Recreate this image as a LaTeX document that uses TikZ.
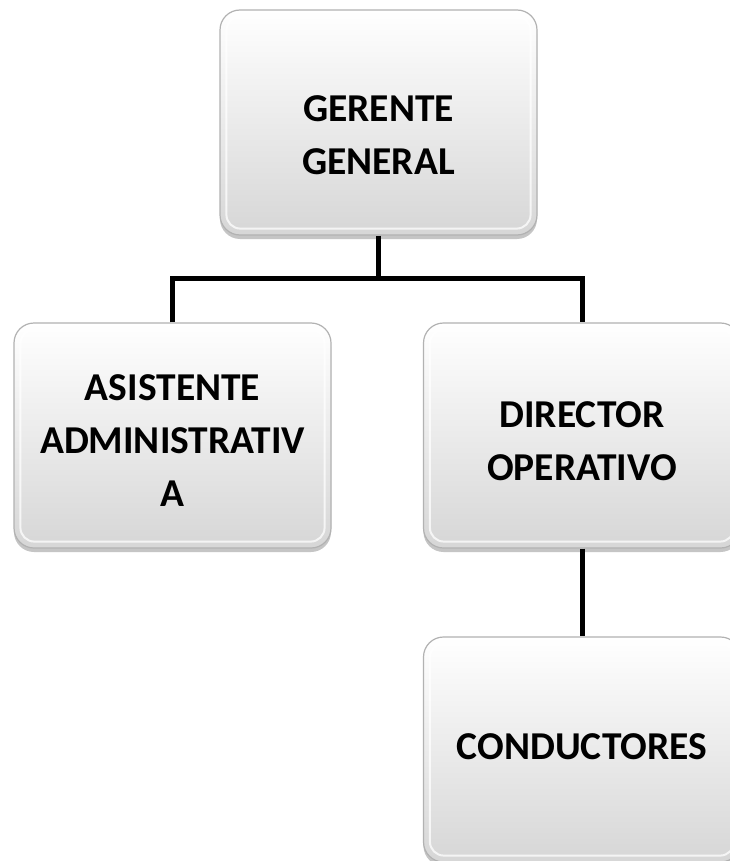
\documentclass[tikz,border=0pt]{standalone}
\usepackage{fontspec}
\setmainfont{Carlito}
\usetikzlibrary{shadows}
\begin{document}
\begin{tikzpicture}[x=1pt,y=-1pt,
  orgbox/.style={rounded corners=20pt, draw=gray!60, line width=1.2pt,
    top color=white, bottom color=gray!32, minimum width=317pt, minimum height=225pt,
    align=center, inner sep=0pt,
    drop shadow={shadow xshift=0pt, shadow yshift=-4pt, opacity=0.5, fill=gray!90}},
  glow/.style={draw=white, opacity=0.75, line width=2pt, rounded corners=14pt},
  lbl/.style={align=center, inner sep=0pt, font=\fontsize{39.5}{53}\selectfont\bfseries},
  link/.style={line width=5pt, black}]
\useasboundingbox (0,0) rectangle (729,861);
\fill[white] (0,0) rectangle (729,861);
\node[orgbox] (g) at (378.5,122.5) {};
\node[orgbox] (a) at (172.5,435.5) {};
\node[orgbox] (d) at (582,435.5) {};
\node[orgbox] (c) at (582,749.5) {};
\foreach \n in {g,a,d,c}{
  \draw[glow] ([shift={(7,7)}]\n.north west) rectangle ([shift={(-7,-7)}]\n.south east);
}
\node[lbl] (gt) at ([yshift=-13pt]g.center) {GERENTE\\GENERAL};
\node[lbl] (at) at ([yshift=-5pt]a.center) {ASISTENTE\\ADMINISTRATIV\\A};
\node[lbl] (dt) at ([yshift=-6pt]d.center) {DIRECTOR\\OPERATIVO};
\node[lbl] (ct) at ([yshift=3pt]c.center) {CONDUCTORES};
\coordinate (j) at (378.5,278);
\draw[link] (g.south) -- (j);
\draw[link] (a.north) |- (j) -| (d.north);
\draw[link] (d.south) -- (c.north);
\end{tikzpicture}
\end{document}
